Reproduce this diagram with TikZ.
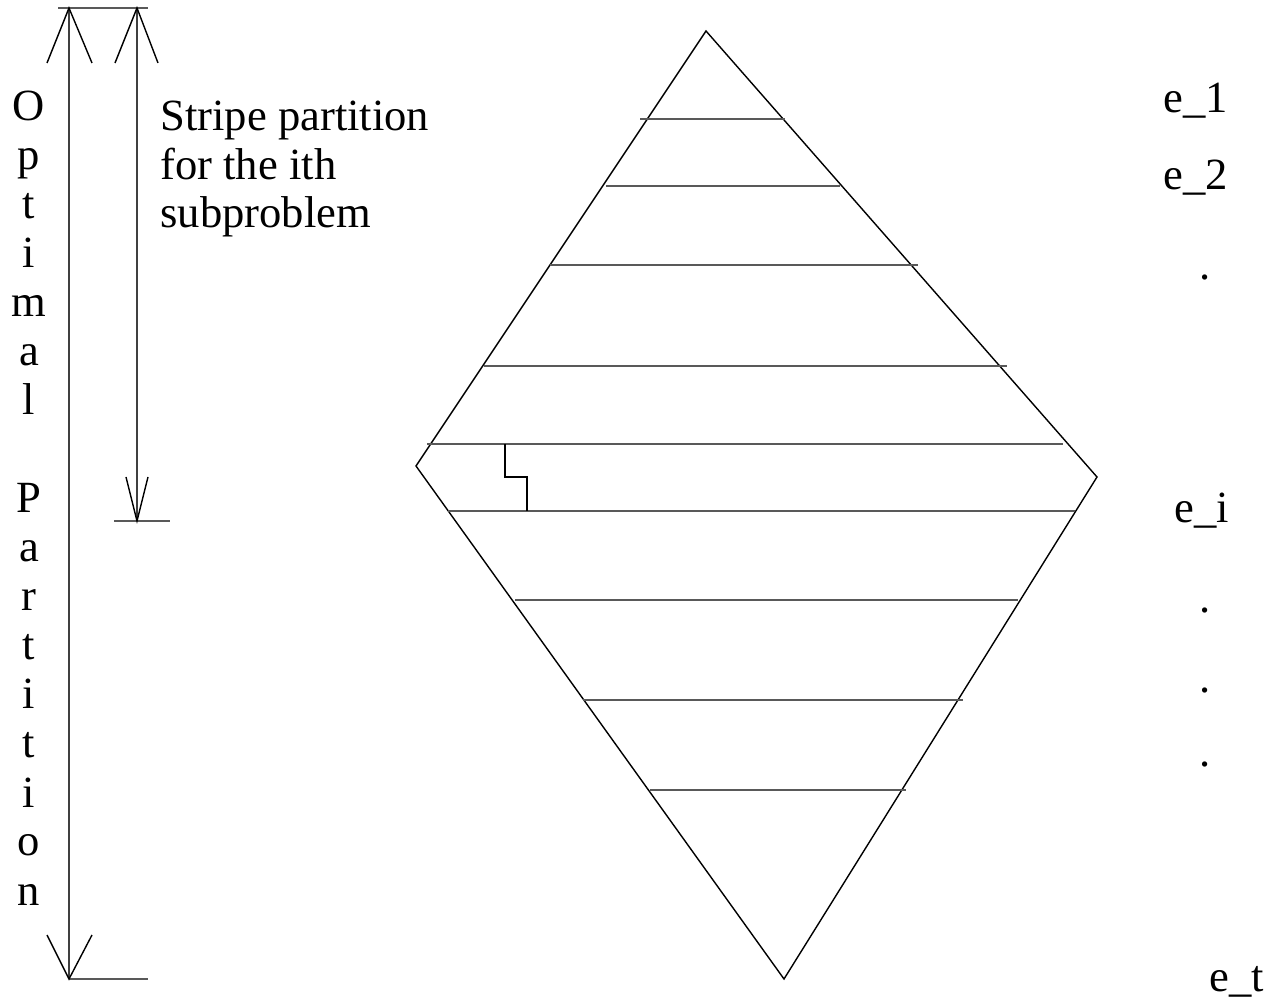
\documentclass[tikz,border=0pt]{standalone}
\usepackage{fontspec}
\setmainfont{Liberation Serif}
\begin{document}
\begin{tikzpicture}[x=0.5pt,y=-0.5pt,
  edge/.style={draw=black,line width=0.7pt,line join=miter},
  stripe/.style={draw=black!65,line width=1pt},
  bar/.style={draw=black!65,line width=1pt},
  shaft/.style={draw=black!75,line width=0.8pt},
  barb/.style={draw=black,line width=0.7pt},
  lbl/.style={font=\fontsize{22.3pt}{24pt}\selectfont,inner sep=0pt,anchor=base west},
  vl/.style={font=\fontsize{22.3pt}{24pt}\selectfont,inner sep=0pt,anchor=base}]
\useasboundingbox (0,0) rectangle (1275,999);
% diamond
\coordinate (T) at (706,31);
\coordinate (L) at (416,466);
\coordinate (R) at (1097,477);
\coordinate (B) at (784,979);
\draw[edge] (T) -- (R) -- (B) -- (L) -- cycle;
% stripes
\foreach \y/\a/\b [count=\k] in {119/640/785,186/606/840,265/550/918,366/484/1007,444/427/1063,511/448/1075,600/515/1018,700/583/963,790/650/906}{
  \coordinate (sa\k) at (\a,\y);
  \coordinate (sb\k) at (\b,\y);
  \draw[stripe] (sa\k) -- (sb\k);
}
% staircase
\coordinate (st1) at (505,444);
\coordinate (st2) at (527,511);
\draw[edge] (st1) |- (516,477) -| (st2);
% long arrow (optimal partition)
\coordinate (A1) at (69,8);
\coordinate (A2) at (69,979);
\coordinate (bar1a) at (58,8);
\coordinate (bar1b) at (148,8);
\coordinate (bar2b) at (148,979);
\draw[bar] (bar1a) -- (bar1b);
\draw[bar] (A2) -- (bar2b);
\draw[shaft] (A1) -- (A2);
\draw[barb] (47,63) -- (A1) -- (92,63);
\draw[barb] (47,935) -- (A2) -- (92,935);
% short arrow (stripe partition)
\coordinate (C1) at (137,8);
\coordinate (C2) at (137,521);
\coordinate (bar3a) at (114,521);
\coordinate (bar3b) at (170,521);
\draw[bar] (bar3a) -- (bar3b);
\draw[shaft] (C1) -- (C2);
\draw[barb] (115,63) -- (C1) -- (158,63);
\draw[barb] (126,477) -- (C2) -- (148,477);
% labels
\node[lbl] (s1) at (160,131) {Stripe partition};
\node[lbl] (s2) at (160,179.5) {for the ith};
\node[lbl] (s3) at (160,228) {subproblem};
\foreach \c [count=\k from 0] in {O,p,t,i,m,a,l,{},P,a,r,t,i,t,i,o,n}{
  \node[vl] (v\k) at (29,{121+49*\k}) {\c};
}
\node[lbl] (e1) at (1163,113) {e\_1};
\node[lbl] (e2) at (1163,190) {e\_2};
\node[lbl] (d1) at (1199,280) {.};
\node[lbl] (ei) at (1174,523) {e\_i};
\node[lbl] (d2) at (1199,613) {.};
\node[lbl] (d3) at (1199,693) {.};
\node[lbl] (d4) at (1199,767) {.};
\node[lbl] (et) at (1209,991) {e\_t};
\end{tikzpicture}
\end{document}
